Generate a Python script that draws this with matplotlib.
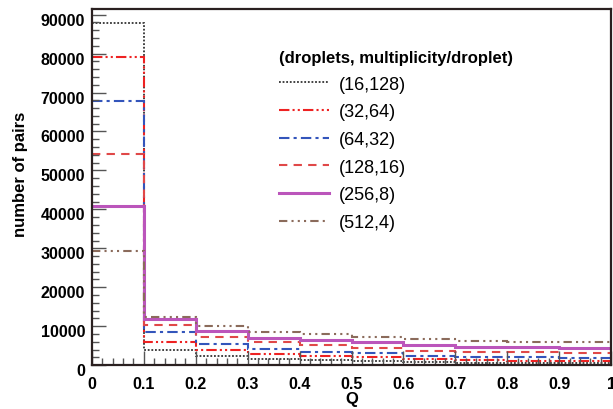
import numpy as np
import matplotlib.pyplot as plt
import matplotlib.transforms as mtransforms
from matplotlib.ticker import MultipleLocator

plt.rcParams['font.family'] = ['Liberation Sans', 'DejaVu Sans']

# bin edges in Q
edges = np.linspace(0, 1, 11)

labels = ["(16,128)", "(32,64)", "(64,32)", "(128,16)", "(256,8)", "(512,4)"]

h16 = [87800, 3850, 2400, 1600, 1290, 1100, 850, 640, 510, 440]
h32 = [79100, 5900, 3850, 2830, 2240, 1980, 1540, 1290, 1100, 950]
h64 = [67800, 8500, 5500, 4200, 3420, 3080, 2390, 2130, 1980, 1720]
h128 = [54200, 10350, 7270, 5900, 5220, 4290, 3680, 3420, 3260, 3000]
h256 = [40950, 11800, 8650, 7070, 6430, 5830, 5220, 4700, 4550, 4290]
h512 = [29200, 12300, 10150, 8480, 7970, 7120, 6680, 6250, 5830, 5830]

series = [h16, h32, h64, h128, h256, h512]
colors = ["#333333", "#ee2222", "#3355bb", "#e04848", "#bb55bb", "#8b6b5b"]
dashes = [(1, 1), (5, 1.5, 1, 1.5, 1, 1.5), (5, 2, 1.5, 2), (4, 3), None, (4, 2, 1, 2, 1, 2, 1, 2)]
widths = [1.3, 1.5, 1.5, 1.5, 2.2, 1.5]

fig = plt.figure(figsize=(6.13, 4.10), dpi=100)
ax = fig.add_axes([0.150, 0.107, 0.847, 0.869])

for vals, lab, c, d, w in zip(series, labels, colors, dashes, widths):
  art = ax.stairs(vals, edges, baseline=None, color=c, linewidth=w, label=lab)
  if d is not None:
    art.set_linestyle((0, d))

ax.set_xlim(0, 1)
ax.set_ylim(0, 91500)
ax.xaxis.set_major_locator(MultipleLocator(0.1))
ax.xaxis.set_minor_locator(MultipleLocator(0.02))
ax.yaxis.set_major_locator(MultipleLocator(10000))
ax.yaxis.set_minor_locator(MultipleLocator(2000))
ax.set_xticks(np.arange(0, 1.01, 0.1))
ax.set_xticklabels(["0", "0.1", "0.2", "0.3", "0.4", "0.5", "0.6", "0.7", "0.8", "0.9", "1"])

ax.tick_params(which='both', direction='in', top=False, right=False, color='#555555')
ax.tick_params(which='major', length=10, width=1)
ax.tick_params(which='minor', length=5, width=1)
ax.tick_params(axis='x', labelsize=11.5, pad=8)
ax.tick_params(axis='y', labelsize=11.5, pad=5)
for t in ax.get_xticklabels() + ax.get_yticklabels():
  t.set_fontweight('bold')

# ROOT-style: y labels sit a little below their ticks
shift = mtransforms.ScaledTranslation(0, -4 / 100, fig.dpi_scale_trans)
for t in ax.get_yticklabels():
  t.set_transform(t.get_transform() + shift)

for s in ax.spines.values():
  s.set_linewidth(1.6)
  s.set_color('#2a2020')

ax.set_xlabel("Q", fontsize=12, fontweight='bold', labelpad=0)
ax.set_ylabel("number of pairs", fontsize=12, fontweight='bold', labelpad=10)
ax.yaxis.set_label_coords(-0.123, 0.537)

leg = ax.legend(loc='upper left', bbox_to_anchor=(0.328, 0.93), frameon=False,
                title="(droplets, multiplicity/droplet)", fontsize=13,
                handlelength=2.8, handletextpad=0.55, labelspacing=0.59,
                alignment='left')
leg.get_title().set_fontweight('bold')
leg.get_title().set_fontsize(12)

plt.savefig("out.png", dpi=100)
